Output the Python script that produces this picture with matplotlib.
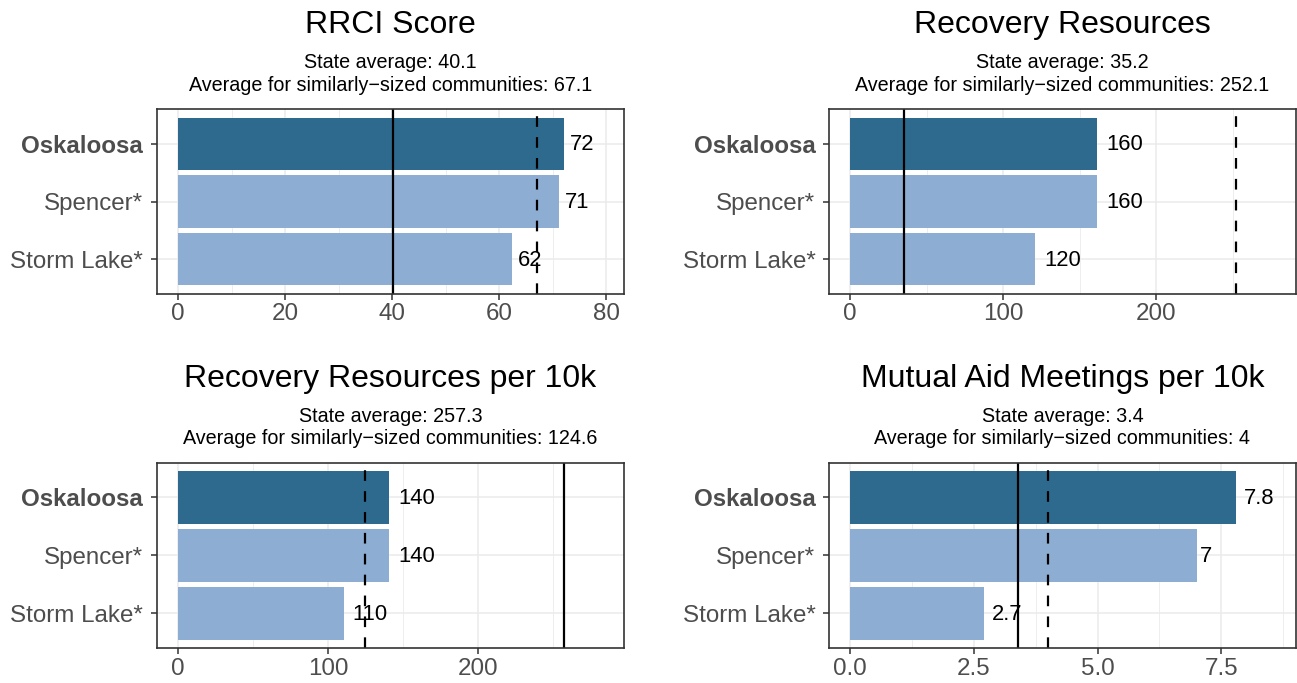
import matplotlib
matplotlib.use("Agg")
import matplotlib.pyplot as plt
import numpy as np

plt.rcParams['font.family'] = ['Liberation Sans', 'DejaVu Sans']

# ---- data ----
communities = ["Oskaloosa", "Spencer*", "Storm Lake*"]
titles = ["RRCI Score", "Recovery Resources",
          "Recovery Resources per 10k", "Mutual Aid Meetings per 10k"]
state_avg = [40.1, 35.2, 257.3, 3.4]
similar_avg = [67.1, 252.1, 124.6, 4]
rrci_values = [72.1, 71.1, 62.3]
resources_values = [161, 161, 121]
resources_per10k_values = [140.5, 140.5, 110.5]
mutual_aid_values = [7.8, 7.0, 2.7]
panel_values = [rrci_values, resources_values, resources_per10k_values, mutual_aid_values]
major_ticks = [[0, 20, 40, 60, 80], [0, 100, 200], [0, 100, 200], [0.0, 2.5, 5.0, 7.5]]
tick_labels = [["0", "20", "40", "60", "80"], ["0", "100", "200"],
               ["0", "100", "200"], ["0.0", "2.5", "5.0", "7.5"]]
minor_ticks = [[10, 30, 50, 70], [50, 150, 250], [50, 150, 250], [1.25, 3.75, 6.25, 8.75]]

dark = "#2E6A8E"
light = "#8DAED2"
grid_c = "#EBEBEB"
frame_c = "#333333"
tick_txt = "#4D4D4D"

W, H = 1297, 683
fig = plt.figure(figsize=(W / 100, H / 100), dpi=100)

# axes rectangles (pixels): left, right, top, bottom
rects = [(156.7, 624.0, 109.0, 294.0), (829.0, 1296.0, 109.0, 294.0),
         (156.7, 624.0, 462.7, 648.3), (829.0, 1296.0, 462.7, 648.3)]

def sig2(v):
    return f"{float(f'{v:.2g}'):g}"

for i in range(4):
    l, r, t, b = rects[i]
    ax = fig.add_axes([l / W, 1 - b / H, (r - l) / W, (b - t) / H])
    vals = panel_values[i]
    y = np.arange(len(communities))
    L = max(max(vals), state_avg[i], similar_avg[i]) * 1.1
    ax.set_xlim(-0.05 * L, 1.05 * L)
    ax.set_ylim(len(communities) - 0.4, -0.6)

    # grid
    for xm in minor_ticks[i]:
        ax.axvline(xm, color=grid_c, lw=0.6, zorder=0)
    for xm in major_ticks[i]:
        ax.axvline(xm, color=grid_c, lw=1.1, zorder=0)
    for yy in y:
        ax.axhline(yy, color=grid_c, lw=1.1, zorder=0)

    colors = [dark] + [light] * (len(communities) - 1)
    ax.barh(y, vals, height=0.9, color=colors, zorder=2)

    ax.axvline(state_avg[i], color="black", lw=1.6, zorder=3)
    ax.axvline(similar_avg[i], color="black", lw=1.6, ls=(0, (4.8, 4.6)), zorder=3)

    ax.set_xticks(major_ticks[i])
    ax.set_xticklabels(tick_labels[i])
    ax.set_yticks(y)
    ax.set_yticklabels(communities)
    ax.tick_params(axis='both', which='major', length=4.3, width=1.1, color=frame_c,
                   labelsize=17.4, labelcolor=tick_txt)
    ax.tick_params(axis='x', pad=2.5)
    ax.tick_params(axis='y', pad=5.5)
    ax.get_yticklabels()[0].set_fontweight('bold')
    for s in ax.spines.values():
        s.set_color(frame_c)
        s.set_linewidth(1.2)
        s.set_zorder(5)

    # value labels with hjust = -0.25
    txts = []
    for yy, v in zip(y, vals):
        txts.append(ax.text(v, yy + 0.02, sig2(v), fontsize=15.8, color="black",
                            ha="left", va="center", zorder=4))
    fig.canvas.draw()
    rend = fig.canvas.get_renderer()
    for tx in txts:
        w = tx.get_window_extent(rend).width
        tx.set_transform(ax.transData + matplotlib.transforms.ScaledTranslation(
            0.25 * w / 100, 0, fig.dpi_scale_trans))

    # titles
    ax.annotate(titles[i], xy=(0.5, 1), xycoords='axes fraction',
                xytext=(0, 54.5), textcoords='offset points',
                ha='center', va='baseline', fontsize=23, color="black")
    ax.annotate(f"State average: {state_avg[i]:g}", xy=(0.5, 1), xycoords='axes fraction',
                xytext=(0, 29.3), textcoords='offset points',
                ha='center', va='baseline', fontsize=14.2, color="black")
    ax.annotate(f"Average for similarly\u2212sized communities: {similar_avg[i]:g}",
                xy=(0.5, 1), xycoords='axes fraction',
                xytext=(0, 13.2), textcoords='offset points',
                ha='center', va='baseline', fontsize=14.2, color="black")

fig.savefig("out.png", dpi=100)
